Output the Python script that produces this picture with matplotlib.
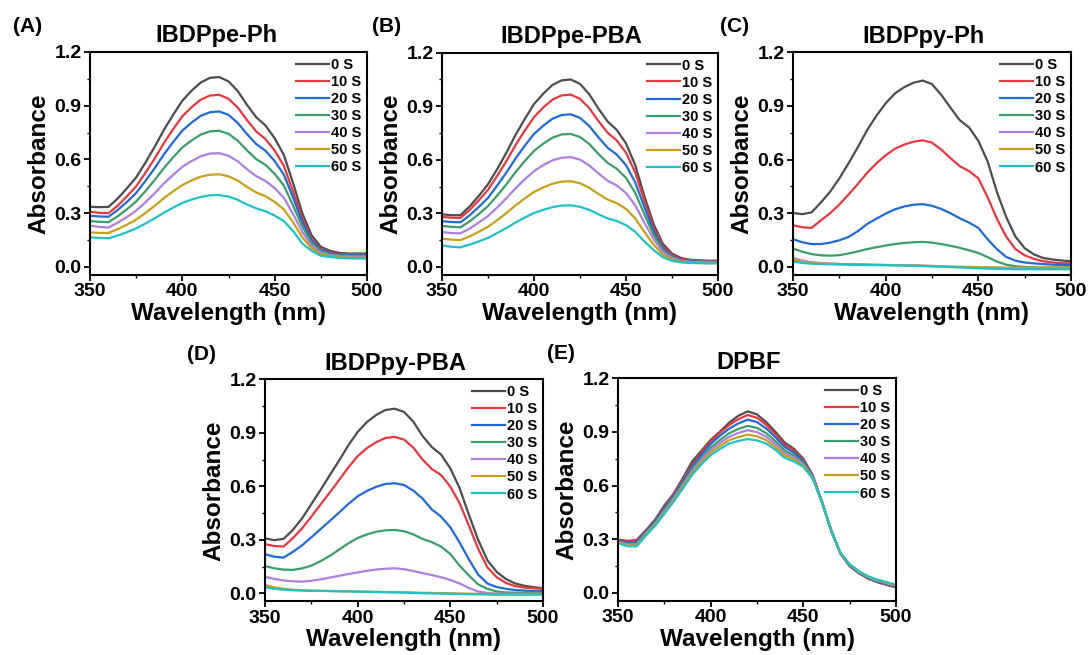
import matplotlib
matplotlib.use("Agg")
import matplotlib.pyplot as plt
from matplotlib.ticker import MultipleLocator

plt.rcParams['font.family'] = ['Liberation Sans', 'DejaVu Sans']
plt.rcParams['font.weight'] = 'bold'

wavelength = list(range(350, 501, 5))

times = ["0 S", "10 S", "20 S", "30 S", "40 S", "50 S", "60 S"]
colors = ["#4d4d4d", "#e8383d", "#1f6bd6", "#3a9e68", "#b07ee0", "#c9a01a", "#20c0c8"]

titles = ["IBDPpe-Ph", "IBDPpe-PBA", "IBDPpy-Ph", "IBDPpy-PBA", "DPBF"]
letters = ["(A)", "(B)", "(C)", "(D)", "(E)"]

# (A) IBDPpe-Ph
abs_a = [
    [.336, .334, .335, .382, .439, .50, .582, .67, .765, .849, .928, .984, 1.03, 1.056, 1.06, 1.036,
     .982, .905, .836, .79, .719, .625, .467, .299, .177, .112, .09, .078, .075, .075, .075],
    [.308, .302, .30, .342, .394, .45, .525, .605, .691, .769, .841, .892, .934, .957, .961, .939,
     .89, .82, .757, .714, .65, .564, .42, .27, .158, .10, .08, .072, .07, .07, .07],
    [.286, .282, .28, .318, .363, .413, .48, .551, .628, .697, .761, .806, .844, .864, .868, .849,
     .804, .742, .686, .649, .591, .515, .386, .25, .148, .095, .075, .068, .066, .065, .065],
    [.256, .252, .25, .283, .322, .366, .423, .485, .552, .612, .667, .706, .739, .757, .76, .743,
     .705, .651, .602, .57, .52, .454, .342, .225, .135, .088, .07, .064, .062, .061, .06],
    [.23, .224, .22, .247, .279, .314, .361, .411, .466, .514, .559, .591, .618, .633, .635, .621,
     .59, .546, .507, .48, .44, .386, .295, .195, .12, .08, .066, .06, .058, .057, .056],
    [.193, .19, .19, .211, .236, .264, .301, .341, .384, .422, .457, .483, .504, .515, .517, .506,
     .482, .447, .416, .395, .363, .321, .249, .165, .105, .07, .06, .055, .052, .051, .05],
    [.165, .162, .16, .175, .194, .215, .242, .271, .303, .331, .357, .376, .391, .40, .401, .393,
     .375, .349, .327, .311, .287, .256, .20, .13, .09, .062, .056, .05, .048, .047, .047],
]

# (B) IBDPpe-PBA
abs_b = [
    [.295, .29, .29, .339, .398, .463, .548, .64, .74, .829, .912, .97, 1.019, 1.045, 1.05, 1.025,
     .968, .887, .815, .767, .692, .571, .396, .24, .13, .075, .05, .04, .037, .035, .035],
    [.28, .276, .275, .319, .373, .432, .51, .593, .683, .764, .839, .893, .937, .961, .965, .942,
     .89, .817, .752, .708, .64, .53, .37, .22, .118, .068, .045, .037, .034, .032, .032],
    [.256, .252, .25, .289, .336, .387, .456, .529, .608, .679, .745, .791, .83, .851, .855, .835,
     .79, .726, .668, .629, .57, .474, .335, .20, .105, .06, .04, .033, .03, .029, .028],
    [.23, .225, .222, .255, .296, .341, .40, .463, .532, .593, .65, .69, .724, .742, .745, .728,
     .689, .633, .583, .55, .499, .415, .295, .18, .095, .055, .037, .03, .028, .027, .027],
    [.196, .19, .188, .215, .249, .285, .333, .385, .441, .491, .537, .57, .597, .612, .615, .601,
     .569, .524, .483, .456, .414, .346, .248, .155, .085, .05, .033, .028, .026, .025, .025],
    [.159, .153, .15, .171, .197, .225, .262, .302, .345, .384, .42, .445, .466, .478, .48, .469,
     .444, .409, .378, .357, .325, .272, .196, .125, .07, .042, .03, .025, .023, .022, .022],
    [.121, .113, .11, .125, .143, .163, .19, .218, .249, .277, .302, .32, .335, .344, .345, .337,
     .32, .295, .272, .257, .234, .197, .143, .095, .055, .034, .026, .022, .021, .02, .02],
]

# (C) IBDPpy-Ph
abs_c = [
    [.302, .295, .305, .36, .42, .495, .58, .67, .765, .845, .915, .97, 1.005, 1.03, 1.042, 1.022,
     .962, .89, .82, .78, .705, .59, .42, .28, .17, .105, .07, .05, .042, .036, .032],
    [.233, .222, .218, .26, .30, .349, .405, .464, .526, .579, .624, .661, .684, .70, .708, .695,
     .656, .608, .563, .536, .495, .39, .27, .17, .10, .065, .045, .032, .025, .021, .02],
    [.155, .138, .128, .128, .136, .149, .168, .20, .24, .27, .298, .322, .338, .348, .351, .342,
     .324, .30, .272, .248, .218, .155, .10, .056, .035, .025, .02, .016, .013, .011, .01],
    [.103, .085, .072, .065, .063, .066, .075, .087, .10, .11, .12, .128, .134, .138, .14, .136,
     .128, .118, .107, .093, .078, .055, .03, .013, .004, 0, -.002, -.003, -.003, -.003, -.003],
    [.05, .035, .027, .022, .019, .017, .015, .014, .013, .012, .011, .01, .009, .008, .007, .005,
     .003, .001, 0, -.002, -.003, -.004, -.005, -.006, -.006, -.006, -.006, -.006, -.006, -.006, -.006],
    [.038, .028, .022, .019, .017, .016, .015, .014, .013, .012, .011, .01, .009, .008, .007, .006,
     .004, .002, .001, 0, -.001, -.002, -.003, -.004, -.004, -.004, -.004, -.004, -.004, -.004, -.004],
    [.03, .022, .018, .016, .015, .014, .013, .012, .011, .01, .01, .009, .008, .007, .005, .003,
     .001, -.001, -.003, -.005, -.007, -.009, -.011, -.012, -.013, -.013, -.013, -.013, -.013, -.013, -.013],
]

# (D) IBDPpy-PBA
abs_d = [
    [.308, .298, .305, .355, .42, .50, .58, .663, .745, .83, .905, .96, 1.0, 1.028, 1.035, 1.017,
     .963, .882, .82, .778, .70, .59, .44, .30, .185, .12, .08, .055, .042, .034, .028],
    [.275, .265, .262, .309, .364, .43, .498, .566, .635, .706, .769, .814, .847, .871, .877, .862,
     .817, .75, .697, .663, .598, .505, .38, .25, .145, .09, .058, .04, .032, .028, .025],
    [.219, .205, .20, .232, .269, .314, .36, .406, .453, .501, .544, .574, .597, .613, .617, .607,
     .576, .531, .47, .43, .37, .285, .19, .105, .055, .035, .025, .018, .015, .013, .012],
    [.153, .14, .133, .131, .14, .155, .18, .21, .245, .28, .31, .33, .345, .353, .355, .348,
     .33, .305, .287, .262, .22, .155, .10, .05, .025, .01, .005, .003, .003, .004, .005],
    [.093, .08, .072, .067, .065, .07, .078, .088, .098, .108, .117, .126, .133, .138, .14, .135,
     .125, .113, .102, .09, .075, .055, .03, .01, .002, -.002, -.003, -.003, -.003, -.003, -.003],
    [.047, .033, .025, .02, .017, .015, .014, .013, .012, .011, .01, .009, .008, .007, .006, .005,
     .004, .003, .002, .001, 0, -.001, -.002, -.003, -.004, -.004, -.004, -.004, -.004, -.004, -.004],
    [.034, .025, .02, .017, .015, .014, .013, .012, .011, .01, .009, .008, .007, .006, .005, .004,
     .002, 0, -.001, -.002, -.003, -.004, -.005, -.006, -.007, -.008, -.008, -.008, -.008, -.008, -.008],
]

# (E) DPBF
abs_e = [
    [.298, .291, .295, .35, .41, .489, .555, .642, .735, .795, .855, .902, .952, .991, 1.015, .998,
     .955, .90, .84, .805, .75, .66, .51, .35, .22, .15, .11, .08, .06, .045, .031],
    [.296, .287, .29, .346, .405, .481, .554, .633, .717, .785, .848, .896, .939, .972, .995, .979,
     .939, .887, .829, .796, .744, .657, .51, .35, .221, .151, .112, .082, .062, .047, .033],
    [.292, .282, .285, .341, .40, .474, .545, .623, .706, .773, .833, .879, .919, .948, .969, .955,
     .919, .87, .815, .784, .737, .654, .51, .35, .222, .153, .114, .084, .064, .05, .036],
    [.288, .275, .277, .334, .392, .464, .534, .611, .691, .756, .813, .855, .893, .917, .934, .923,
     .893, .848, .796, .769, .727, .65, .51, .35, .223, .155, .116, .087, .067, .053, .039],
    [.285, .271, .271, .33, .386, .456, .526, .602, .681, .744, .799, .839, .873, .895, .91, .899,
     .873, .832, .782, .757, .719, .646, .51, .35, .223, .157, .118, .089, .07, .055, .041],
    [.282, .266, .266, .325, .381, .449, .518, .593, .67, .732, .784, .822, .854, .872, .885, .876,
     .854, .816, .769, .746, .712, .643, .51, .35, .224, .158, .12, .091, .072, .058, .044],
    [.279, .261, .26, .32, .375, .442, .51, .584, .66, .72, .77, .805, .835, .85, .86, .853,
     .835, .80, .755, .735, .705, .64, .51, .35, .225, .16, .122, .093, .074, .06, .046],
]

panels = [abs_a, abs_b, abs_c, abs_d, abs_e]

# axes boxes in figure pixels: left, right, top, bottom
boxes = [(90, 367, 52, 275), (442, 718, 52.7, 275), (793, 1071, 52.3, 275),
         (265, 543, 379.3, 601.3), (618, 896, 378.3, 601)]
title_x = [0.458, 0.468, 0.468, 0.468, 0.469]
letter_pos = [(13, 27), (372, 27), (720, 27), (187, 355), (547, 354)]

W, H = 1089, 655
fig = plt.figure(figsize=(W / 100, H / 100), dpi=100)

for i, data in enumerate(panels):
    l, r, t, b = boxes[i]
    ax = fig.add_axes([l / W, 1 - b / H, (r - l) / W, (b - t) / H])
    for j, y in enumerate(data):
        ax.plot(wavelength, y, color=colors[j], lw=1.6, label=times[j])
    ax.set_xlim(350, 500)
    ax.set_ylim(-0.045, 1.2)
    ax.xaxis.set_major_locator(MultipleLocator(50))
    ax.xaxis.set_minor_locator(MultipleLocator(25))
    ax.yaxis.set_minor_locator(MultipleLocator(0.15))
    ax.tick_params(which='major', direction='out', length=4, width=1.3,
                   labelsize=14, pad=2)
    ax.tick_params(which='minor', direction='out', length=2.5, width=1.0)
    ax.set_yticks([0, 0.3, 0.6, 0.9, 1.2])
    ax.set_yticklabels(["0.0", "0.3", "0.6", "0.9", "1.2"])
    for s in ax.spines.values():
        s.set_linewidth(1.5)
    ax.set_xlabel("Wavelength (nm)", fontsize=17.5, fontweight='bold', labelpad=1)
    ax.set_ylabel("Absorbance", fontsize=17.5, fontweight='bold', labelpad=3)
    ax.set_title(titles[i], fontsize=17, fontweight='bold', x=title_x[i], pad=7)
    ax.legend(loc='upper right', frameon=False, handlelength=2.3,
              handletextpad=0.1, labelspacing=0.21, borderaxespad=0.0,
              borderpad=0.4, prop={'weight': 'bold', 'size': 10.5})
    lx, ly = letter_pos[i]
    fig.text(lx / W, 1 - ly / H, letters[i], fontsize=15, fontweight='bold',
             ha='left', va='center')

fig.savefig("out.png", dpi=100)
